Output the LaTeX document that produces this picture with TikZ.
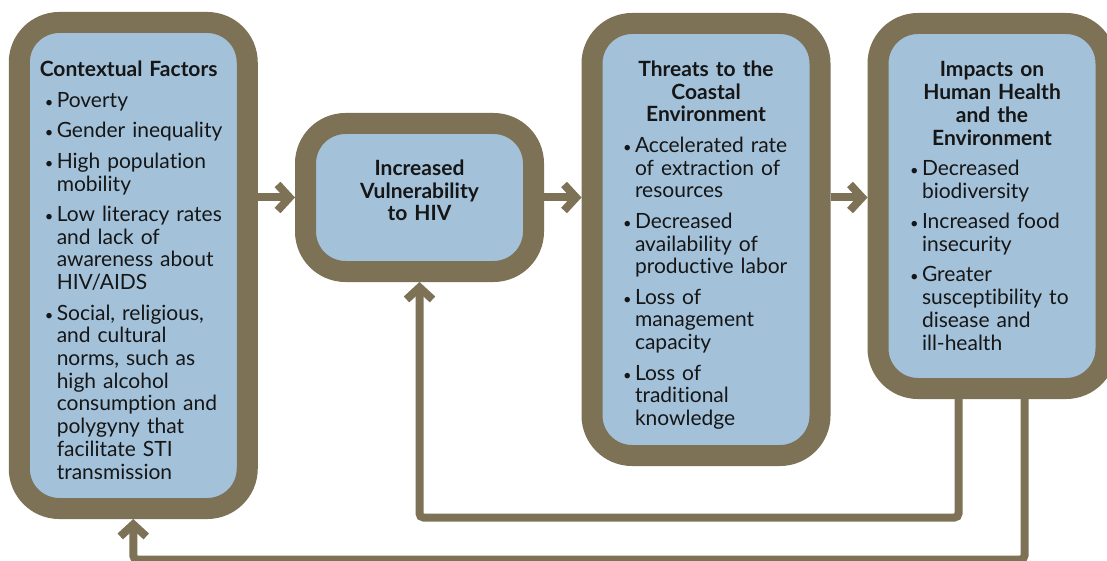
\documentclass[tikz,border=0pt]{standalone}
\usepackage{fontspec}
\setmainfont{Lato}[Ligatures=NoCommon]
\usepackage{tikz}
\usetikzlibrary{positioning, arrows.meta}

\definecolor{frameBrown}{RGB}{126,114,86}
\definecolor{panelBlue}{RGB}{163,194,218}
\definecolor{inkDark}{RGB}{22,22,22}

\setlength{\parindent}{0pt}
% one bullet entry, text hung at 17pt
\newcommand{\bpt}{\par\vspace{7.8pt}\leftskip=17pt\noindent\llap{\hbox to 17pt{\hskip 5pt\scalebox{0.7}{\textbullet}\hfil}}}

\begin{document}
\begin{tikzpicture}[
    x=1pt, y=-1pt,
    stage/.style={rectangle, draw=frameBrown, fill=panelBlue, line width=21pt, rounded corners=40pt, minimum width=228pt, text=inkDark, font=\fontsize{21}{22.7}\selectfont},
    listbox/.style={stage, align=left},
    link/.style={draw=frameBrown, line width=8pt, rounded corners=4pt, -{Straight Barb[length=12pt, width=26pt]}}
]
\useasboundingbox (0,0) rectangle (1107,561);

\node[listbox, text width=187pt, minimum height=486pt] (ctx) at (133.25,265.5) {%
  \rule{0pt}{25pt}{\bfseries Contextual Factors}
  \bpt Poverty
  \bpt Gender~inequality
  \bpt High~population\\mobility
  \bpt Low~literacy~rates\\and lack of\\awareness~about\\HIV/AIDS
  \bpt Social,~religious,\\and cultural\\norms,~such~as\\high alcohol\\consumption~and\\polygyny that\\facilitate STI\\transmission\par};
\node[stage, text width=200pt, minimum height=148pt, align=center, font=\fontsize{21}{22.7}\selectfont\bfseries] (vuln) at (419.5,197.5) {Increased\\Vulnerability\\to HIV\par\vspace*{14pt}};
\node[listbox, text width=176pt, minimum height=432pt] (threat) at (706,239.5) {%
  {\centering\bfseries\rule{0pt}{27pt}Threats to the\\Coastal\\Environment\par}
  \bpt Accelerated~rate\\of~extraction~of\\resources
  \bpt Decreased\\availability~of\\productive~labor
  \bpt Loss of\\management\\capacity
  \bpt Loss of\\traditional\\knowledge\par};
\node[listbox, text width=174pt, minimum height=365pt] (impact) at (992,206) {%
  {\centering\bfseries Impacts on\\Human~Health\\and the\\Environment\par}
  \bpt Decreased\\biodiversity
  \bpt Increased~food\\insecurity
  \bpt Greater\\susceptibility~to\\disease and\\ill-health\par};

\coordinate (turnA) at (958.5,517.5);
\coordinate (turnB) at (1024.5,559.5);

\draw[link] (ctx.east |- vuln.west) -- (vuln.west);
\draw[link] (vuln.east) -- (vuln.east -| threat.west);
\draw[link] (threat.east |- vuln.east) -- (impact.west |- vuln.east);
\draw[link] (impact.south -| turnA) -- (turnA) -| (vuln.south);
\draw[link] (impact.south -| turnB) -- (turnB) -| (ctx.south);
\end{tikzpicture}
\end{document}
